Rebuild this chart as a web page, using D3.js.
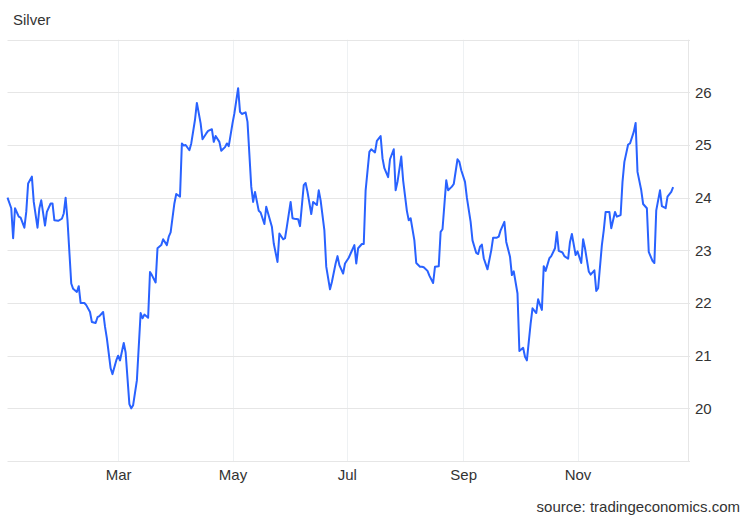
<!DOCTYPE html>
<html><head><meta charset="utf-8">
<script src="https://cdn.jsdelivr.net/npm/d3@7"></script>
<style>body{margin:0;background:#fff}svg{display:block}text{font-family:"Liberation Sans",Arial,sans-serif}</style>
</head><body><svg id="c" width="750" height="520"></svg>
<script>
const title = "Silver";
const source = "source: tradingeconomics.com";
const dates = [
"2023-01-01","2023-01-03","2023-01-04","2023-01-05","2023-01-07","2023-01-08","2023-01-10","2023-01-11","2023-01-12","2023-01-14",
"2023-01-15","2023-01-17","2023-01-18","2023-01-19","2023-01-21","2023-01-22","2023-01-24","2023-01-25","2023-01-26","2023-01-28",
"2023-01-30","2023-01-31","2023-02-01","2023-02-02","2023-02-04","2023-02-05","2023-02-07","2023-02-08","2023-02-09","2023-02-11",
"2023-02-12","2023-02-14","2023-02-15","2023-02-17","2023-02-18","2023-02-19","2023-02-21","2023-02-22","2023-02-23","2023-02-25",
"2023-02-26","2023-02-28","2023-03-01","2023-03-02","2023-03-04","2023-03-05","2023-03-07","2023-03-08","2023-03-09","2023-03-11",
"2023-03-13","2023-03-14","2023-03-15","2023-03-17","2023-03-18","2023-03-19","2023-03-21","2023-03-22","2023-03-24","2023-03-25",
"2023-03-27","2023-03-28","2023-03-29","2023-03-31","2023-04-01","2023-04-03","2023-04-04","2023-04-05","2023-04-06","2023-04-08",
"2023-04-09","2023-04-11","2023-04-12","2023-04-14","2023-04-15","2023-04-17","2023-04-18","2023-04-20","2023-04-21","2023-04-22",
"2023-04-24","2023-04-25","2023-04-27","2023-04-28","2023-04-29","2023-05-01","2023-05-02","2023-05-04","2023-05-05","2023-05-06",
"2023-05-08","2023-05-09","2023-05-11","2023-05-12","2023-05-13","2023-05-15","2023-05-16","2023-05-18","2023-05-19","2023-05-20",
"2023-05-22","2023-05-23","2023-05-25","2023-05-26","2023-05-28","2023-05-29","2023-05-30","2023-06-01","2023-06-02","2023-06-03",
"2023-06-05","2023-06-06","2023-06-08","2023-06-09","2023-06-10","2023-06-12","2023-06-13","2023-06-15","2023-06-16","2023-06-17",
"2023-06-19","2023-06-20","2023-06-22","2023-06-23","2023-06-25","2023-06-26","2023-06-27","2023-06-29","2023-06-30","2023-07-02",
"2023-07-03","2023-07-05","2023-07-06","2023-07-07","2023-07-09","2023-07-10","2023-07-11","2023-07-13","2023-07-14","2023-07-16",
"2023-07-17","2023-07-19","2023-07-20","2023-07-21","2023-07-23","2023-07-24","2023-07-26","2023-07-27","2023-07-28","2023-07-30",
"2023-07-31","2023-08-02","2023-08-03","2023-08-04","2023-08-06","2023-08-07","2023-08-09","2023-08-10","2023-08-11","2023-08-13",
"2023-08-14","2023-08-16","2023-08-17","2023-08-19","2023-08-20","2023-08-21","2023-08-23","2023-08-24","2023-08-26","2023-08-27",
"2023-08-29","2023-08-30","2023-08-31","2023-09-02","2023-09-03","2023-09-05","2023-09-06","2023-09-08","2023-09-09","2023-09-10",
"2023-09-11","2023-09-12","2023-09-14","2023-09-16","2023-09-17","2023-09-19","2023-09-20","2023-09-21","2023-09-23","2023-09-24",
"2023-09-26","2023-09-27","2023-09-28","2023-09-30","2023-10-01","2023-10-03","2023-10-04","2023-10-05","2023-10-07","2023-10-08",
"2023-10-10","2023-10-11","2023-10-13","2023-10-14","2023-10-15","2023-10-17","2023-10-18","2023-10-20","2023-10-21","2023-10-22",
"2023-10-24","2023-10-25","2023-10-27","2023-10-28","2023-10-29","2023-10-31","2023-11-01","2023-11-03","2023-11-04","2023-11-05",
"2023-11-07","2023-11-08","2023-11-10","2023-11-11","2023-11-12","2023-11-14","2023-11-15","2023-11-16","2023-11-18","2023-11-19",
"2023-11-21","2023-11-22","2023-11-24","2023-11-25","2023-11-26","2023-11-28","2023-11-29","2023-12-01","2023-12-02","2023-12-03",
"2023-12-05","2023-12-06","2023-12-08","2023-12-09","2023-12-11","2023-12-12","2023-12-13","2023-12-15","2023-12-16","2023-12-18",
"2023-12-19","2023-12-21","2023-12-22"];
const values = [
24.00,23.80,23.23,23.80,23.64,23.62,23.43,23.73,24.27,24.40,
23.92,23.43,23.80,23.95,23.47,23.73,23.89,23.89,23.57,23.56,
23.60,23.70,24.00,23.57,22.37,22.27,22.21,22.32,22.00,22.00,
21.96,21.83,21.64,21.62,21.73,21.75,21.83,21.55,21.33,20.76,
20.65,20.91,21.00,20.91,21.24,21.06,20.08,20.00,20.06,20.53,
21.81,21.71,21.78,21.72,22.59,22.53,22.39,23.04,23.10,23.21,
23.10,23.26,23.34,23.89,24.07,24.02,25.03,24.99,25.00,24.90,
25.03,25.48,25.80,25.41,25.11,25.22,25.27,25.30,25.06,25.17,
25.06,24.89,24.96,25.03,24.98,25.41,25.60,26.08,25.63,25.59,
25.62,25.44,24.21,23.92,24.11,23.75,23.72,23.50,23.83,23.70,
23.45,23.13,22.78,23.32,23.21,23.23,23.45,23.92,23.61,23.60,
23.59,23.46,24.24,24.28,24.11,23.69,23.92,23.86,24.14,23.95,
23.38,22.69,22.26,22.40,22.75,22.89,22.72,22.56,22.75,22.86,
22.94,23.10,22.75,23.04,23.12,23.12,24.14,24.87,24.92,24.86,
25.08,25.17,24.75,24.56,24.39,24.73,24.92,24.14,24.30,24.78,
24.33,23.75,23.57,23.61,23.19,22.76,22.69,22.69,22.68,22.61,
22.52,22.38,22.69,22.70,23.35,23.40,24.33,24.14,24.21,24.26,
24.73,24.68,24.52,24.30,24.00,23.54,23.19,22.95,22.93,23.07,
23.11,22.85,22.64,23.00,23.24,23.24,23.26,23.38,23.54,23.16,
22.88,22.53,22.60,22.18,21.09,21.15,20.98,20.91,21.61,21.90,
21.81,22.07,21.87,22.70,22.61,22.85,22.89,23.04,23.35,22.99,
22.96,22.89,22.84,23.16,23.31,22.91,22.98,22.76,23.21,23.04,
22.60,22.54,22.62,22.23,22.28,23.10,23.38,23.73,23.73,23.42,
23.73,23.64,23.67,24.30,24.68,25.01,25.03,25.25,25.42,24.49,
24.14,23.88,23.80,22.97,22.80,22.76,23.76,24.14,23.84,23.80,
24.02,24.11,24.20];
const yTicks = [20, 21, 22, 23, 24, 25, 26];
const yDomain = [19, 27];
const xDomain = ["2023-01-01", "2023-12-31"];
const monthTicks = ["2023-03-01", "2023-05-01", "2023-07-01", "2023-09-01", "2023-11-01"];

const parse = d3.timeParse("%Y-%m-%d");
const data = dates.map((d, i) => ({ date: parse(d), value: values[i] }));

const svg = d3.select("#c");
const L = 7.5, R = 690, T = 39.7, B = 461;
const x = d3.scaleTime().domain(xDomain.map(parse)).range([L, R]);
const y = d3.scaleLinear().domain(yDomain).range([B, T]);

// vertical grid
svg.append("g").selectAll("line").data(monthTicks.map(parse)).join("line")
  .attr("x1", d => Math.round(x(d)) + 0.5).attr("x2", d => Math.round(x(d)) + 0.5)
  .attr("y1", T).attr("y2", B)
  .attr("stroke", "#eef1f3").attr("stroke-width", 1);

// horizontal grid incl. top
svg.append("g").selectAll("line").data(yTicks.concat([yDomain[1]])).join("line")
  .attr("x1", L).attr("x2", R)
  .attr("y1", d => Math.round(y(d)) + 0.5).attr("y2", d => Math.round(y(d)) + 0.5)
  .attr("stroke", "#e6e6e6").attr("stroke-width", 1);

// right border & bottom axis line
svg.append("line").attr("x1", R - 1.5).attr("x2", R - 1.5).attr("y1", T).attr("y2", B)
  .attr("stroke", "#e6e6e6");
svg.append("line").attr("x1", L).attr("x2", R).attr("y1", Math.round(B) + 0.5).attr("y2", Math.round(B) + 0.5)
  .attr("stroke", "#e6e6e6");

// line
svg.append("path").datum(data)
  .attr("fill", "none").attr("stroke", "#2962ff").attr("stroke-width", 2)
  .attr("stroke-linejoin", "round")
  .attr("d", d3.line().x(d => x(d.date)).y(d => y(d.value)));

// axes
const yAxis = svg.append("g").attr("transform", `translate(${R},0)`)
  .call(d3.axisRight(y).tickValues(yTicks).tickSize(0).tickPadding(5).tickFormat(d3.format("d")));
yAxis.select(".domain").remove();
yAxis.selectAll("text").attr("font-size", 15).attr("fill", "#333").style("font-family", '"Liberation Sans",Arial,sans-serif');

const xAxis = svg.append("g").attr("transform", `translate(0,${B})`)
  .call(d3.axisBottom(x).tickValues(monthTicks.map(parse)).tickSize(0).tickPadding(8).tickFormat(d3.timeFormat("%b")));
xAxis.select(".domain").remove();
xAxis.selectAll("text").attr("font-size", 15).attr("fill", "#333").style("font-family", '"Liberation Sans",Arial,sans-serif');

svg.append("text").attr("x", 13).attr("y", 25).attr("font-size", 15).attr("fill", "#333").text(title);
svg.append("text").attr("x", 740).attr("y", 512).attr("text-anchor", "end")
  .attr("font-size", 15).attr("fill", "#333").text(source);
</script>
</body></html>
